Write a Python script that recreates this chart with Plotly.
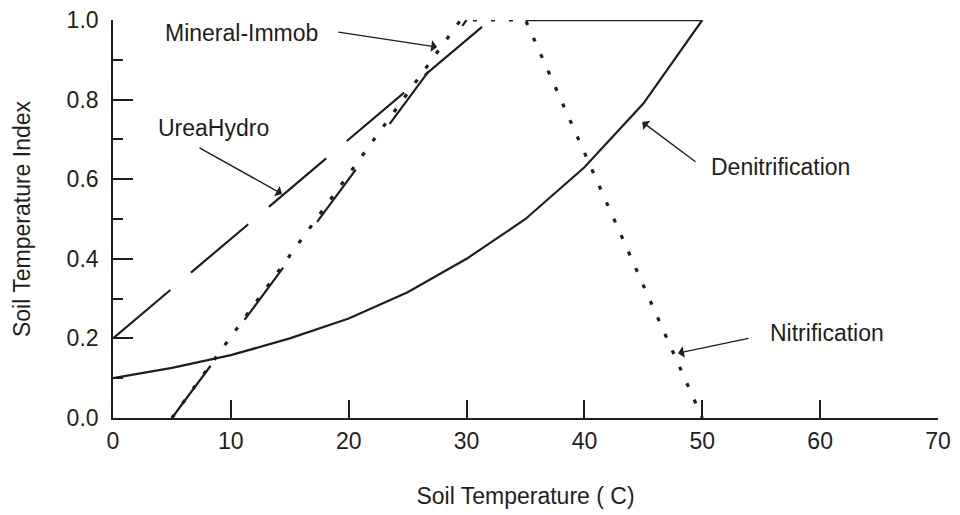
import plotly.graph_objects as go

# ---- data ----
temp_denit = [0, 5, 10, 15, 20, 25, 30, 35, 40, 45, 50]
idx_denit = [0.10, 0.126, 0.158, 0.20, 0.25, 0.316, 0.40, 0.50, 0.63, 0.79, 1.0]

temp_nitr = [5, 29.5, 35, 50]
idx_nitr = [0.0, 1.0, 1.0, 0.0]

temp_urea = [0, 32]
idx_urea = [0.2, 1.0]

temp_minimm = [5, 30]
idx_minimm = [0.0, 1.0]

temp_cap = [35, 50]
idx_cap = [1.0, 1.0]

x_ticks = [0, 10, 20, 30, 40, 50, 60, 70]
y_ticks = [0.0, 0.2, 0.4, 0.6, 0.8, 1.0]
y_ticklabels = ["0.0", "0.2", "0.4", "0.6", "0.8", "1.0"]

INK = "#1e1e1e"
FONT = "Liberation Sans, Arial, sans-serif"
FS = 23

fig = go.Figure()
fig.add_trace(go.Scatter(x=temp_urea, y=idx_urea, mode="lines", name="UreaHydro",
                         line=dict(color=INK, width=2.2, dash="75px,27px"), cliponaxis=False))
fig.add_trace(go.Scatter(x=temp_minimm, y=idx_minimm, mode="lines", name="Mineral-Immob",
                         line=dict(color=INK, width=2.2, dash="65px,57px"), cliponaxis=False))
fig.add_trace(go.Scatter(x=temp_nitr, y=idx_nitr, mode="lines", name="Nitrification",
                         line=dict(color=INK, width=3.2, dash="4px,14px"), cliponaxis=False))
fig.add_trace(go.Scatter(x=temp_denit, y=idx_denit, mode="lines", name="Denitrification",
                         line=dict(color=INK, width=2.2), cliponaxis=False))
fig.add_trace(go.Scatter(x=temp_cap, y=idx_cap, mode="lines", name="cap",
                         line=dict(color=INK, width=2.6), cliponaxis=False))

afont = dict(family=FONT, size=FS, color=INK)
arrow = dict(showarrow=True, arrowhead=1, arrowsize=1.4, arrowwidth=1.4,
             arrowcolor=INK, axref="x", ayref="y", xref="x", yref="y")

# labels
fig.add_annotation(x=10.9, y=0.967, text="Mineral-Immob", showarrow=False, font=afont)
fig.add_annotation(x=8.5, y=0.729, text="UreaHydro", showarrow=False, font=afont)
fig.add_annotation(x=50.6, y=0.631, text="Denitrification", showarrow=False,
                   xanchor="left", font=afont)
fig.add_annotation(x=55.6, y=0.214, text="Nitrification", showarrow=False,
                   xanchor="left", font=afont)
# arrows
fig.add_annotation(x=27.5, y=0.932, ax=19.0, ay=0.97, text="", **arrow)
fig.add_annotation(x=14.34, y=0.563, ax=7.21, ay=0.681, text="", **arrow)
fig.add_annotation(x=44.9, y=0.744, ax=49.55, ay=0.641, text="", **arrow)
fig.add_annotation(x=47.94, y=0.163, ax=54.05, ay=0.201, text="", **arrow)

fig.update_layout(
    width=960, height=515,
    margin=dict(l=113, r=22, t=20, b=97, autoexpand=False),
    paper_bgcolor="white", plot_bgcolor="white",
    showlegend=False,
    font=dict(family=FONT, size=FS, color=INK),
)
fig.update_xaxes(
    range=[0, 70], tickvals=x_ticks, ticks="inside", ticklen=18, tickwidth=1.5,
    tickcolor=INK, showline=True, linecolor=INK, linewidth=1.6, showgrid=False,
    zeroline=False, mirror=False, ticklabelstandoff=2, automargin=False,
    tickfont=dict(family=FONT, size=FS, color=INK),
    title=dict(text="Soil Temperature ( C)", standoff=34,
               font=dict(family=FONT, size=FS, color=INK)),
)
fig.update_yaxes(
    range=[0, 1.0], tickvals=y_ticks, ticktext=y_ticklabels, ticks="inside",
    ticklen=20, tickwidth=1.5, tickcolor=INK, showline=True, linecolor=INK,
    linewidth=1.6, showgrid=False, zeroline=False, mirror=False,
    ticklabelstandoff=8, automargin=False,
    minor=dict(dtick=0.1, tick0=0, ticks="inside", ticklen=10, tickwidth=1.5,
               tickcolor=INK, showgrid=False),
    tickfont=dict(family=FONT, size=FS, color=INK),
    title=dict(text="Soil Temperature Index", standoff=30,
               font=dict(family=FONT, size=FS, color=INK)),
)

fig.write_html("out.html")
